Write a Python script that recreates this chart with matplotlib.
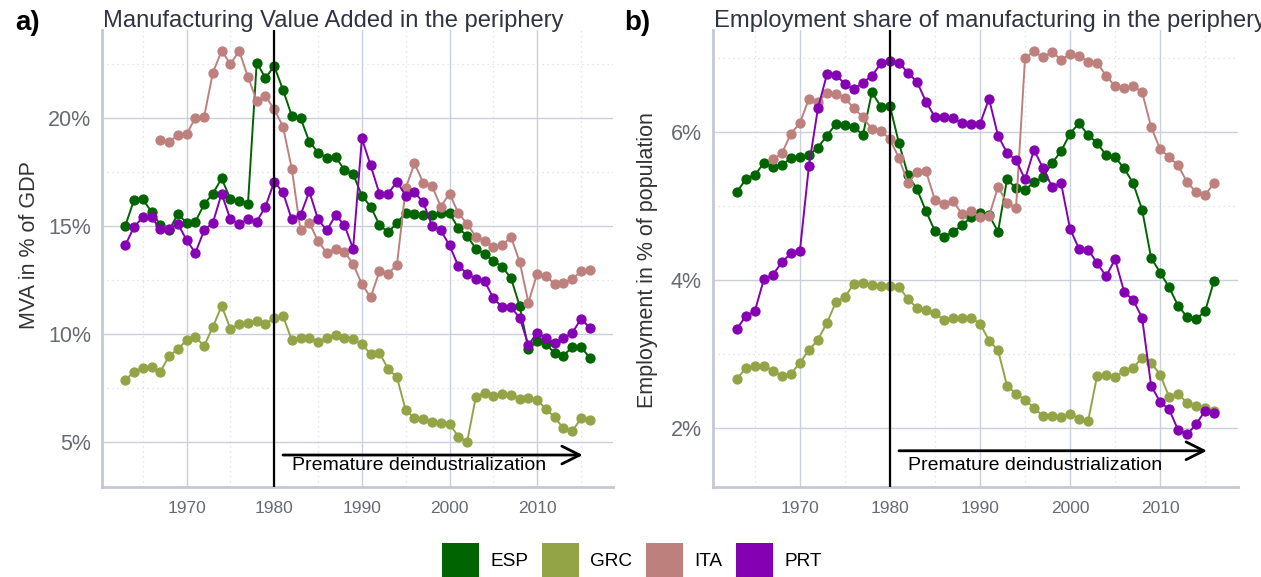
import numpy as np
import matplotlib
matplotlib.use("Agg")
import matplotlib.pyplot as plt
from matplotlib.patches import Patch
from matplotlib.ticker import FuncFormatter, MultipleLocator

plt.rcParams['font.family'] = ['Liberation Sans', 'DejaVu Sans']

years = np.arange(1963, 2017)
years_ita = np.arange(1967, 2017)

# panel a: MVA in % of GDP
mva_esp = [15.0, 16.2, 16.25, 15.65, 15.05, 14.8, 15.55, 15.15, 15.2, 16.0,
           16.5, 17.2, 16.25, 16.15, 16.0, 22.55, 21.85, 22.4, 21.3, 20.1,
           20.0, 18.9, 18.4, 18.15, 18.2, 17.6, 17.4, 16.4, 15.9, 15.05,
           14.7, 15.15, 15.6, 15.55, 15.5, 15.5, 15.6, 15.6, 14.9, 14.55,
           13.95, 13.7, 13.4, 13.1, 12.6, 11.3, 9.3, 9.7, 9.55, 9.1,
           9.0, 9.4, 9.4, 8.9]
mva_grc = [7.87, 8.25, 8.43, 8.48, 8.25, 8.98, 9.3, 9.72, 9.86, 9.45,
           10.33, 11.3, 10.25, 10.46, 10.52, 10.6, 10.46, 10.75, 10.83, 9.72,
           9.82, 9.82, 9.63, 9.82, 9.95, 9.82, 9.75, 9.53, 9.07, 9.13,
           8.38, 8.0, 6.48, 6.1, 6.05, 5.93, 5.9, 5.85, 5.25, 5.0,
           7.08, 7.27, 7.13, 7.22, 7.18, 7.0, 7.03, 6.95, 6.53, 6.15,
           5.63, 5.5, 6.1, 6.0]
mva_ita = [19.0, 18.9, 19.2, 19.25, 20.0, 20.05, 22.1, 23.1, 22.5, 23.1,
           21.9, 20.8, 21.0, 20.4, 19.6, 17.65, 14.8, 15.15, 14.3, 13.75,
           13.95, 13.8, 13.25, 12.3, 11.7, 12.9, 12.8, 13.2, 16.75, 17.9,
           17.0, 16.85, 15.9, 16.5, 15.6, 15.1, 14.5, 14.3, 14.05, 14.1,
           14.5, 13.35, 11.45, 12.8, 12.7, 12.3, 12.35, 12.55, 12.9, 12.95]
mva_prt = [14.1, 14.95, 15.4, 15.4, 14.85, 14.85, 15.1, 14.35, 13.75, 14.8,
           15.15, 16.5, 15.3, 15.1, 15.3, 15.2, 15.9, 17.05, 16.55, 15.3,
           15.5, 16.6, 15.3, 14.8, 15.5, 15.05, 13.95, 19.05, 17.8, 16.5,
           16.5, 17.05, 16.4, 16.55, 16.1, 15.0, 14.8, 14.1, 13.15, 12.8,
           12.55, 12.45, 11.65, 11.25, 11.25, 10.75, 9.5, 10.05, 9.8, 9.6,
           9.8, 10.05, 10.7, 10.3]

# panel b: manufacturing employment in % of population
emp_esp = [5.19, 5.36, 5.42, 5.58, 5.53, 5.55, 5.65, 5.66, 5.69, 5.79,
           5.95, 6.11, 6.09, 6.07, 5.96, 6.54, 6.34, 6.35, 5.85, 5.42,
           5.23, 4.93, 4.66, 4.58, 4.65, 4.74, 4.85, 4.9, 4.88, 4.65,
           5.36, 5.24, 5.22, 5.32, 5.39, 5.58, 5.74, 5.98, 6.12, 5.96,
           5.85, 5.69, 5.66, 5.51, 5.31, 4.95, 4.3, 4.1, 3.9, 3.65,
           3.5, 3.47, 3.58, 3.99]
emp_grc = [2.66, 2.81, 2.84, 2.84, 2.77, 2.7, 2.73, 2.88, 3.05, 3.19,
           3.42, 3.7, 3.77, 3.95, 3.96, 3.93, 3.92, 3.92, 3.91, 3.74,
           3.62, 3.59, 3.55, 3.46, 3.49, 3.49, 3.49, 3.41, 3.18, 3.05,
           2.57, 2.46, 2.38, 2.27, 2.16, 2.16, 2.14, 2.19, 2.12, 2.09,
           2.7, 2.72, 2.69, 2.77, 2.81, 2.95, 2.88, 2.72, 2.42, 2.46,
           2.34, 2.29, 2.27, 2.23]
emp_ita = [5.63, 5.71, 5.98, 6.12, 6.45, 6.41, 6.53, 6.51, 6.46, 6.32,
           6.2, 6.04, 6.02, 5.9, 5.65, 5.31, 5.46, 5.47, 5.08, 5.03,
           5.07, 4.89, 4.93, 4.85, 4.86, 5.26, 5.04, 4.97, 7.0, 7.09,
           7.01, 7.08, 6.98, 7.05, 7.03, 6.95, 6.94, 6.76, 6.62, 6.59,
           6.62, 6.54, 6.07, 5.77, 5.66, 5.55, 5.32, 5.19, 5.15, 5.31]
emp_prt = [3.34, 3.51, 3.58, 4.01, 4.07, 4.24, 4.36, 4.39, 5.54, 6.32,
           6.78, 6.77, 6.65, 6.58, 6.67, 6.76, 6.93, 6.96, 6.94, 6.8,
           6.68, 6.41, 6.2, 6.2, 6.19, 6.12, 6.11, 6.11, 6.45, 5.95,
           5.72, 5.62, 5.36, 5.76, 5.51, 5.26, 5.31, 4.69, 4.42, 4.41,
           4.23, 4.05, 4.28, 3.84, 3.73, 3.49, 2.57, 2.35, 2.25, 1.97,
           1.91, 2.05, 2.23, 2.2]

countries = ['ESP', 'GRC', 'ITA', 'PRT']
colors = {'ESP': '#006400', 'GRC': '#92A446', 'ITA': '#BD807D', 'PRT': '#8400B2'}

W, H = 1261, 577
fig = plt.figure(figsize=(W / 100, H / 100), dpi=100)
ax1 = fig.add_axes([102 / W, 1 - 487 / H, 511 / W, 457 / H])
ax2 = fig.add_axes([713 / W, 1 - 487 / H, 525 / W, 457 / H])

title_col = '#2E3442'
tick_col = '#666A72'
grid_col = '#CAD0DB'


def style(ax, ylim, major, minor):
    ax.set_xlim(1960.35, 2018.65)
    ax.set_ylim(*ylim)
    ax.xaxis.set_major_locator(MultipleLocator(10))
    ax.xaxis.set_minor_locator(MultipleLocator(5))
    ax.yaxis.set_major_locator(MultipleLocator(major))
    ax.yaxis.set_minor_locator(MultipleLocator(minor))
    ax.yaxis.set_major_formatter(FuncFormatter(lambda v, p: '%d%%' % round(v)))
    ax.grid(which='major', color=grid_col, lw=1.0)
    ax.grid(which='minor', color='#DADDE3', lw=0.9, ls=(0, (1, 3)))
    ax.set_axisbelow(True)
    for s in ['top', 'right']:
        ax.spines[s].set_visible(False)
    for s in ['left', 'bottom']:
        ax.spines[s].set_color('#C3C9D4')
        ax.spines[s].set_linewidth(2)
    ax.tick_params(which='both', length=0)
    ax.tick_params(axis='x', labelsize=12.5, colors=tick_col, pad=10)
    ax.tick_params(axis='y', labelsize=15.5, colors=tick_col, pad=8)


def draw(ax, series):
    for c in countries:
        x, y = series[c]
        ax.plot(x, y, color=colors[c], lw=1.4, marker='o', ms=6.4, zorder=3)


draw(ax1, {'ESP': (years, mva_esp), 'GRC': (years, mva_grc),
           'ITA': (years_ita, mva_ita), 'PRT': (years, mva_prt)})
draw(ax2, {'ESP': (years, emp_esp), 'GRC': (years, emp_grc),
           'ITA': (years_ita, emp_ita), 'PRT': (years, emp_prt)})

style(ax1, (2.92, 24.07), 5, 2.5)
style(ax2, (1.2, 7.38), 2, 1)

for ax, ya, yt in [(ax1, 4.4, 3.93), (ax2, 1.69, 1.49)]:
    ax.axvline(1980, color='black', lw=1.6, zorder=4)
    ax.annotate('', xy=(2015.2, ya), xytext=(1981, ya),
                arrowprops=dict(arrowstyle='->', lw=2, color='black',
                                mutation_scale=32, shrinkA=0, shrinkB=0),
                zorder=5)
    ax.text(1982, yt, 'Premature deindustrialization', fontsize=14,
            va='center', ha='left', color='black', zorder=5)

fig.text(103 / W, 1 - 27 / H, 'Manufacturing Value Added in the periphery',
         fontsize=17.1, color=title_col, va='baseline', ha='left')
fig.text(714 / W, 1 - 27 / H, 'Employment share of manufacturing in the periphery',
         fontsize=17.1, color=title_col, va='baseline', ha='left')
fig.text(15 / W, 1 - 30 / H, 'a)', fontsize=20, fontweight='bold', va='baseline')
fig.text(624 / W, 1 - 30 / H, 'b)', fontsize=20, fontweight='bold', va='baseline')

fig.text(30 / W, 1 - 245 / H, 'MVA in % of GDP', rotation=90, fontsize=15.5,
         color='#333333', ha='center', va='center')
fig.text(648 / W, 1 - 260 / H, 'Employment in % of population', rotation=90,
         fontsize=15.5, color='#333333', ha='center', va='center')

handles = [Patch(facecolor=colors[c], edgecolor='none', label=c) for c in countries]
fig.legend(handles=handles, loc='center', bbox_to_anchor=(0.501, 1 - 560 / H),
           ncol=4, frameon=False, fontsize=13.7, handlelength=1.95,
           handleheight=2.3, handletextpad=0.6, columnspacing=0.7)

fig.savefig('out.png', dpi=100)
